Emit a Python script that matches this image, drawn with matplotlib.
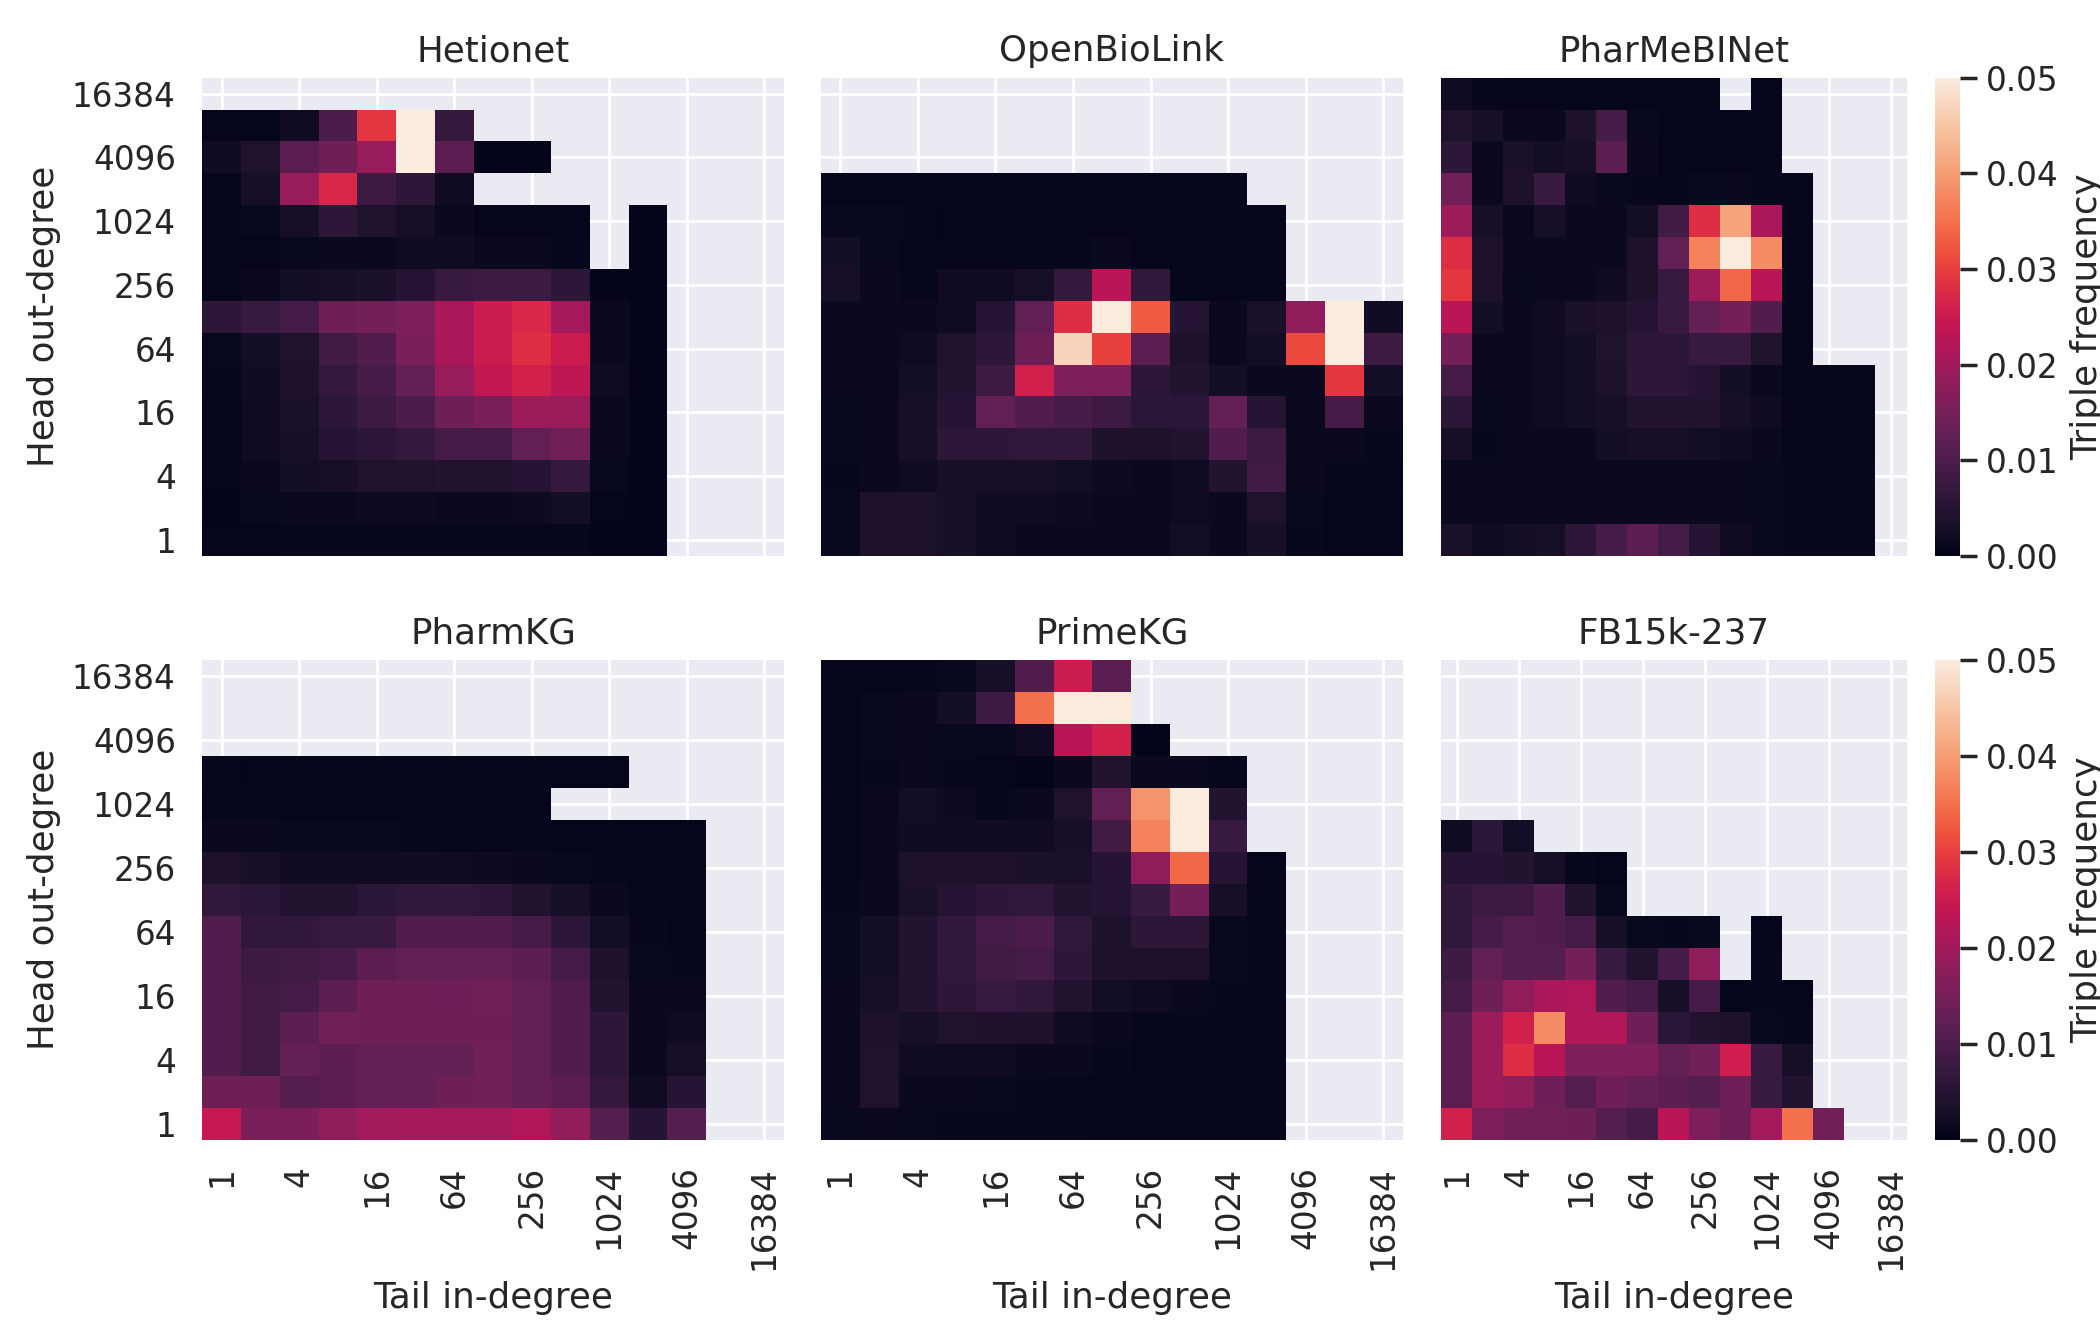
import numpy as np
import matplotlib
matplotlib.use("Agg")
import matplotlib.pyplot as plt
import seaborn as sns

n = np.nan

# degree bins (log2), index 0 -> 1, index 14 -> 16384
degree_bins = [2 ** i for i in range(15)]
tick_every = 2

datasets = ["Hetionet", "OpenBioLink", "PharMeBINet", "PharmKG", "PrimeKG", "FB15k-237"]

# Each matrix: rows listed top (head out-degree 16384) to bottom (1);
# columns left (tail in-degree 1) to right (16384). Values = triple frequency.
hetionet = [
    [n, n, n, n, n, n, n, n, n, n, n, n, n, n, n],
    [0.0005, 0.0005, 0.002, 0.010, 0.029, 0.05, 0.007, n, n, n, n, n, n, n, n],
    [0.002, 0.004, 0.012, 0.014, 0.019, 0.05, 0.012, 0.0002, 0.0002, n, n, n, n, n, n],
    [0.0005, 0.003, 0.019, 0.027, 0.008, 0.006, 0.002, n, n, n, n, n, n, n, n],
    [0.0005, 0.001, 0.003, 0.006, 0.004, 0.003, 0.0015, 0.0005, 0.0005, 0.0005, n, 0.0003, n, n, n],
    [0.0005, 0.0005, 0.001, 0.0012, 0.0012, 0.002, 0.0022, 0.0015, 0.0012, 0.0008, n, 0.0003, n, n, n],
    [0.0005, 0.0015, 0.0025, 0.003, 0.0035, 0.005, 0.0075, 0.008, 0.008, 0.006, 0.0003, 0.0003, n, n, n],
    [0.006, 0.0075, 0.009, 0.014, 0.015, 0.016, 0.021, 0.025, 0.027, 0.0205, 0.0015, 0.0003, n, n, n],
    [0.001, 0.0025, 0.004, 0.0085, 0.0105, 0.0155, 0.021, 0.025, 0.028, 0.025, 0.0015, 0.0003, n, n, n],
    [0.0008, 0.0022, 0.0038, 0.007, 0.0095, 0.013, 0.019, 0.024, 0.026, 0.0235, 0.002, 0.0003, n, n, n],
    [0.0005, 0.002, 0.0035, 0.006, 0.008, 0.010, 0.014, 0.0155, 0.0195, 0.0195, 0.0012, 0.0003, n, n, n],
    [0.0005, 0.002, 0.003, 0.005, 0.006, 0.007, 0.009, 0.009, 0.0125, 0.0145, 0.0012, 0.0003, n, n, n],
    [0.0005, 0.0015, 0.0025, 0.003, 0.004, 0.004, 0.0045, 0.0045, 0.005, 0.007, 0.001, 0.0003, n, n, n],
    [0.0003, 0.001, 0.0012, 0.0015, 0.0017, 0.0017, 0.0015, 0.0015, 0.0017, 0.0025, 0.0005, 0.0003, n, n, n],
    [0.0004, 0.0005, 0.0006, 0.0007, 0.0008, 0.0008, 0.0006, 0.0006, 0.0006, 0.0008, 0.0003, 0.0003, n, n, n],
]

openbiolink = [
    [n, n, n, n, n, n, n, n, n, n, n, n, n, n, n],
    [n, n, n, n, n, n, n, n, n, n, n, n, n, n, n],
    [n, n, n, n, n, n, n, n, n, n, n, n, n, n, n],
    [0.0005, 0.0005, 0.0005, 0.0005, 0.0005, 0.0005, 0.0005, 0.0005, 0.0005, 0.0005, 0.0005, n, n, n, n],
    [0.001, 0.001, 0.0008, 0.0004, 0.0004, 0.0004, 0.0004, 0.0004, 0.0004, 0.0004, 0.0004, 0.0004, n, n, n],
    [0.0025, 0.001, 0.0006, 0.0005, 0.0005, 0.0006, 0.0008, 0.0012, 0.0004, 0.0004, 0.0004, 0.0004, n, n, n],
    [0.003, 0.0012, 0.0006, 0.002, 0.002, 0.003, 0.007, 0.023, 0.0065, 0.0005, 0.0005, 0.0004, n, n, n],
    [0.0012, 0.0012, 0.0015, 0.002, 0.005, 0.0125, 0.028, 0.05, 0.033, 0.005, 0.0015, 0.0035, 0.018, 0.05, 0.0022],
    [0.0012, 0.0015, 0.002, 0.004, 0.006, 0.014, 0.047, 0.03, 0.012, 0.0038, 0.0015, 0.0025, 0.031, 0.05, 0.008],
    [0.0012, 0.0015, 0.0025, 0.0045, 0.008, 0.026, 0.016, 0.016, 0.006, 0.0045, 0.0025, 0.0015, 0.0015, 0.029, 0.0025],
    [0.001, 0.0015, 0.003, 0.005, 0.0125, 0.0105, 0.0095, 0.008, 0.0055, 0.0055, 0.013, 0.005, 0.0012, 0.009, 0.0015],
    [0.001, 0.0015, 0.003, 0.006, 0.006, 0.0065, 0.0065, 0.0038, 0.0038, 0.0045, 0.0105, 0.008, 0.0015, 0.0015, 0.0008],
    [0.0008, 0.0012, 0.002, 0.003, 0.003, 0.003, 0.0025, 0.0017, 0.0015, 0.002, 0.0045, 0.0085, 0.0015, 0.0008, 0.0006],
    [0.001, 0.0038, 0.0038, 0.003, 0.002, 0.002, 0.0017, 0.0015, 0.0015, 0.002, 0.0015, 0.004, 0.001, 0.0005, 0.0005],
    [0.001, 0.0038, 0.0038, 0.003, 0.002, 0.0015, 0.0015, 0.0015, 0.0015, 0.0025, 0.0012, 0.003, 0.0008, 0.0005, 0.0005],
]

pharmebinet = [
    [0.002, 0.0008, 0.0005, 0.0004, 0.0004, 0.0004, 0.0004, 0.0004, 0.0004, n, 0.0004, n, n, n, n],
    [0.004, 0.003, 0.0015, 0.0012, 0.0038, 0.009, 0.001, 0.0004, 0.0004, 0.0004, 0.0004, n, n, n, n],
    [0.006, 0.0015, 0.0035, 0.0025, 0.003, 0.012, 0.0015, 0.0004, 0.0004, 0.0004, 0.0004, n, n, n, n],
    [0.0145, 0.0015, 0.0038, 0.0075, 0.002, 0.001, 0.0008, 0.0005, 0.001, 0.0012, 0.0008, 0.0004, n, n, n],
    [0.0195, 0.003, 0.0015, 0.003, 0.0015, 0.0012, 0.0025, 0.0085, 0.028, 0.041, 0.021, 0.0004, n, n, n],
    [0.028, 0.0038, 0.0012, 0.0015, 0.0015, 0.0015, 0.0038, 0.0125, 0.037, 0.05, 0.038, 0.0004, n, n, n],
    [0.029, 0.0038, 0.001, 0.0012, 0.0012, 0.002, 0.0038, 0.0075, 0.0195, 0.034, 0.023, 0.0004, n, n, n],
    [0.023, 0.0025, 0.0015, 0.002, 0.0035, 0.0038, 0.005, 0.0075, 0.013, 0.015, 0.0105, 0.0004, n, n, n],
    [0.015, 0.0015, 0.0015, 0.002, 0.0025, 0.004, 0.006, 0.006, 0.0075, 0.0075, 0.004, 0.0004, n, n, n],
    [0.009, 0.0015, 0.0015, 0.002, 0.0025, 0.0038, 0.006, 0.006, 0.005, 0.0025, 0.0015, 0.0005, 0.0004, 0.0004, n],
    [0.006, 0.001, 0.0012, 0.002, 0.0025, 0.003, 0.0045, 0.0045, 0.0045, 0.003, 0.002, 0.0005, 0.0004, 0.0004, n],
    [0.003, 0.0008, 0.0012, 0.0015, 0.0015, 0.0025, 0.003, 0.003, 0.0025, 0.002, 0.0015, 0.0005, 0.0004, 0.0004, n],
    [0.0015, 0.0012, 0.0012, 0.0012, 0.0015, 0.0015, 0.0015, 0.0015, 0.0015, 0.0015, 0.001, 0.0008, 0.0008, 0.0008, n],
    [0.0015, 0.0015, 0.0015, 0.0015, 0.0015, 0.0015, 0.0015, 0.0012, 0.0012, 0.0012, 0.001, 0.0006, 0.0006, 0.0006, n],
    [0.0035, 0.002, 0.0025, 0.003, 0.006, 0.009, 0.012, 0.009, 0.005, 0.002, 0.001, 0.0008, 0.0006, 0.0006, n],
]

pharmkg = [
    [n, n, n, n, n, n, n, n, n, n, n, n, n, n, n],
    [n, n, n, n, n, n, n, n, n, n, n, n, n, n, n],
    [n, n, n, n, n, n, n, n, n, n, n, n, n, n, n],
    [0.0008, 0.0004, 0.0004, 0.0004, 0.0004, 0.0004, 0.0004, 0.0004, 0.0004, 0.0004, 0.0004, n, n, n, n],
    [0.0004, 0.0004, 0.0004, 0.0004, 0.0004, 0.0004, 0.0004, 0.0004, 0.0004, n, n, n, n, n, n],
    [0.0012, 0.0012, 0.001, 0.001, 0.001, 0.0008, 0.0006, 0.0005, 0.0004, 0.0004, 0.0004, 0.0004, 0.0004, n, n],
    [0.0038, 0.003, 0.0022, 0.0022, 0.0022, 0.0022, 0.002, 0.0017, 0.0015, 0.001, 0.0006, 0.0004, 0.0004, n, n],
    [0.0065, 0.0055, 0.0045, 0.0045, 0.0055, 0.0065, 0.0065, 0.006, 0.0045, 0.003, 0.0015, 0.0005, 0.0004, n, n],
    [0.0105, 0.0065, 0.0065, 0.0075, 0.0075, 0.0105, 0.0105, 0.0105, 0.009, 0.006, 0.0025, 0.0008, 0.0005, n, n],
    [0.0105, 0.008, 0.0085, 0.009, 0.012, 0.013, 0.013, 0.013, 0.012, 0.009, 0.0038, 0.001, 0.0008, n, n],
    [0.0105, 0.0085, 0.009, 0.012, 0.014, 0.014, 0.0142, 0.0145, 0.0125, 0.0105, 0.0045, 0.0012, 0.0012, n, n],
    [0.0105, 0.0085, 0.012, 0.0145, 0.014, 0.014, 0.014, 0.014, 0.0125, 0.0105, 0.006, 0.0015, 0.002, n, n],
    [0.0105, 0.0085, 0.013, 0.012, 0.0125, 0.013, 0.013, 0.0145, 0.0125, 0.0105, 0.006, 0.0015, 0.003, n, n],
    [0.014, 0.014, 0.011, 0.012, 0.013, 0.013, 0.014, 0.0145, 0.013, 0.012, 0.007, 0.002, 0.005, n, n],
    [0.0245, 0.0155, 0.0155, 0.018, 0.02, 0.0205, 0.0205, 0.0205, 0.0215, 0.0185, 0.011, 0.005, 0.011, n, n],
]

primekg = [
    [0.0004, 0.0004, 0.0005, 0.001, 0.003, 0.0105, 0.025, 0.012, n, n, n, n, n, n, n],
    [0.0005, 0.001, 0.0015, 0.0025, 0.008, 0.035, 0.05, 0.05, n, n, n, n, n, n, n],
    [0.0005, 0.001, 0.0012, 0.001, 0.001, 0.002, 0.023, 0.026, 0.0003, n, n, n, n, n, n],
    [0.0005, 0.0008, 0.0012, 0.0008, 0.0004, 0.0003, 0.0015, 0.0045, 0.0012, 0.0015, 0.0004, n, n, n, n],
    [0.0006, 0.0012, 0.0025, 0.0017, 0.0008, 0.0012, 0.004, 0.0125, 0.039, 0.05, 0.0045, n, n, n, n],
    [0.0006, 0.0012, 0.0022, 0.0022, 0.0022, 0.0022, 0.003, 0.0085, 0.037, 0.05, 0.0075, n, n, n, n],
    [0.0006, 0.0012, 0.0038, 0.0038, 0.0038, 0.0035, 0.0035, 0.005, 0.018, 0.034, 0.005, 0.0004, n, n, n],
    [0.0008, 0.0012, 0.0035, 0.005, 0.006, 0.0065, 0.0045, 0.005, 0.0075, 0.015, 0.003, 0.0004, n, n, n],
    [0.001, 0.0025, 0.0045, 0.0065, 0.009, 0.010, 0.0065, 0.0038, 0.006, 0.006, 0.001, 0.0005, n, n, n],
    [0.001, 0.0025, 0.0045, 0.0065, 0.0085, 0.009, 0.006, 0.0038, 0.0038, 0.0038, 0.001, 0.0005, n, n, n],
    [0.0015, 0.003, 0.0045, 0.006, 0.0075, 0.0065, 0.0045, 0.0025, 0.002, 0.0015, 0.0008, 0.0005, n, n, n],
    [0.0015, 0.0038, 0.003, 0.004, 0.0038, 0.0038, 0.002, 0.0015, 0.0008, 0.0008, 0.0006, 0.0005, n, n, n],
    [0.0015, 0.004, 0.002, 0.002, 0.002, 0.0015, 0.0012, 0.0008, 0.0005, 0.0005, 0.0005, 0.0005, n, n, n],
    [0.0015, 0.004, 0.0015, 0.0012, 0.001, 0.0008, 0.0006, 0.0005, 0.0004, 0.0004, 0.0004, 0.0004, n, n, n],
    [0.001, 0.0012, 0.001, 0.0008, 0.0008, 0.0008, 0.0006, 0.0004, 0.0004, 0.0004, 0.0004, 0.0004, n, n, n],
]

fb15k237 = [
    [n, n, n, n, n, n, n, n, n, n, n, n, n, n, n],
    [n, n, n, n, n, n, n, n, n, n, n, n, n, n, n],
    [n, n, n, n, n, n, n, n, n, n, n, n, n, n, n],
    [n, n, n, n, n, n, n, n, n, n, n, n, n, n, n],
    [n, n, n, n, n, n, n, n, n, n, n, n, n, n, n],
    [0.002, 0.0055, 0.0025, n, n, n, n, n, n, n, n, n, n, n, n],
    [0.005, 0.005, 0.0045, 0.003, 0.0008, 0.0004, n, n, n, n, n, n, n, n, n],
    [0.0065, 0.008, 0.008, 0.0105, 0.0045, 0.001, n, n, n, n, n, n, n, n, n],
    [0.0065, 0.009, 0.011, 0.0105, 0.009, 0.003, 0.001, 0.0008, 0.001, n, 0.0004, n, n, n, n],
    [0.008, 0.0125, 0.011, 0.011, 0.015, 0.0075, 0.0045, 0.009, 0.018, n, 0.0006, n, n, n, n],
    [0.009, 0.014, 0.018, 0.021, 0.0215, 0.0105, 0.009, 0.003, 0.009, 0.0004, 0.0006, 0.0005, n, n, n],
    [0.012, 0.0195, 0.026, 0.038, 0.022, 0.022, 0.0142, 0.0055, 0.0045, 0.0038, 0.001, 0.0006, n, n, n],
    [0.012, 0.0195, 0.028, 0.023, 0.016, 0.016, 0.016, 0.0125, 0.0145, 0.0255, 0.0075, 0.003, n, n, n],
    [0.012, 0.0195, 0.018, 0.0142, 0.011, 0.0142, 0.013, 0.012, 0.011, 0.0142, 0.0075, 0.0045, n, n, n],
    [0.026, 0.016, 0.0145, 0.0145, 0.014, 0.011, 0.009, 0.023, 0.016, 0.0142, 0.0205, 0.035, 0.0145, n, n],
]

matrices = [hetionet, openbiolink, pharmebinet, pharmkg, primekg, fb15k237]

sns.set_theme(style="darkgrid", context="notebook", font_scale=1.07)
plt.rcParams["font.family"] = ["DejaVu Sans"]

fig = plt.figure(figsize=(10.5, 6.61), dpi=200)

W, H = 2100.0, 1322.0
col_px = [(202.2, 581.5), (821.0, 581.5), (1441.0, 465.5)]
row_px = [(77.7, 478.0), (660.0, 479.7)]
cbar_px = (1935.0, 24.5)

x_tick_pos = np.arange(0, len(degree_bins), tick_every) + 0.5
x_tick_lab = [str(d) for d in degree_bins[::tick_every]]
y_tick_lab = [str(d) for d in degree_bins[::-1][::tick_every]]

for idx, (name, mat) in enumerate(zip(datasets, matrices)):
    r, c = divmod(idx, 3)
    x0, w = col_px[c]
    y0, h = row_px[r]
    ax = fig.add_axes([x0 / W, 1 - (y0 + h) / H, w / W, h / H])
    data = np.array(mat, dtype=float)
    if c == 2:
        cax = fig.add_axes([cbar_px[0] / W, 1 - (y0 + h) / H, cbar_px[1] / W, h / H])
        kw = dict(cbar=True, cbar_ax=cax, cbar_kws={"label": "Triple frequency"})
    else:
        kw = dict(cbar=False)
    sns.heatmap(data, ax=ax, cmap="rocket", vmin=0, vmax=0.05,
                xticklabels=False, yticklabels=False, **kw)
    ax.set_xticks(x_tick_pos)
    ax.set_yticks(x_tick_pos)
    if r == 1:
        ax.set_xticklabels(x_tick_lab, rotation=90)
        ax.set_xlabel("Tail in-degree")
    else:
        ax.set_xticklabels([])
    if c == 0:
        ax.set_yticklabels(y_tick_lab, rotation=0)
        ax.set_ylabel("Head out-degree")
    else:
        ax.set_yticklabels([])
    ax.set_title(name)
    ax.grid(True, color="white")
    ax.set_axisbelow(True)

fig.savefig("out.png", dpi=200)
